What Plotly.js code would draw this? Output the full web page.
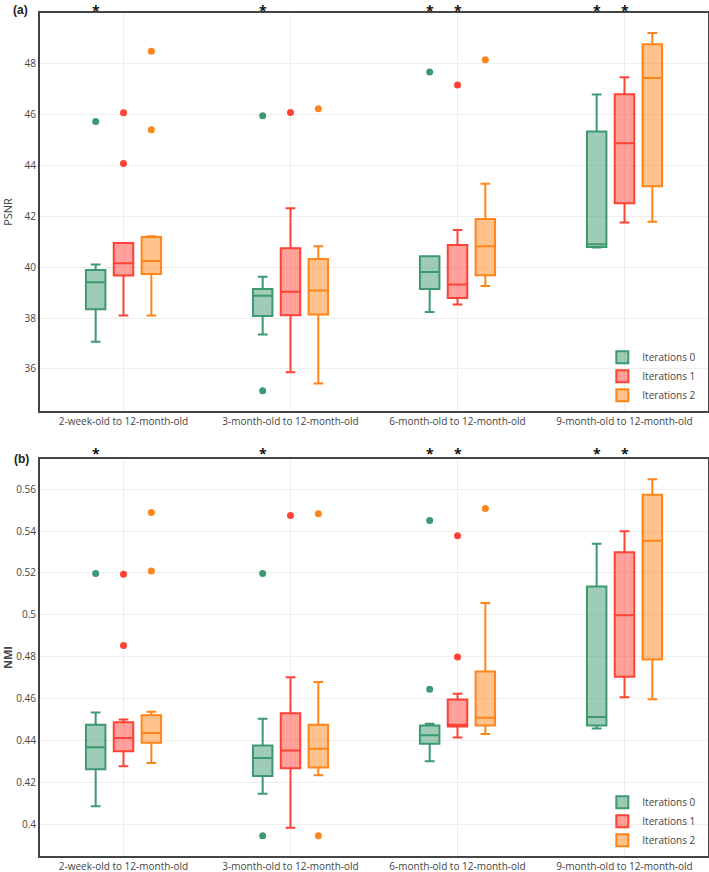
<!DOCTYPE html>
<html>
<head>
<meta charset="utf-8">
<script src="https://cdn.plot.ly/plotly-3.0.1.min.js"></script>
<style>html,body{margin:0;padding:0;background:#fff;}#chart{width:709px;height:872px;}</style>
</head>
<body>
<div id="chart"></div>
<script>
// ---------- DATA ----------
var categories = ['2-week-old to 12-month-old', '3-month-old to 12-month-old', '6-month-old to 12-month-old', '9-month-old to 12-month-old'];
var seriesNames = ['Iterations 0', 'Iterations 1', 'Iterations 2'];

// PSNR (panel a): per series, per category
var psnrLower  = [[37.07, 37.35, 38.24, 40.77], [38.10, 35.87, 38.53, 41.75], [38.10, 35.43, 39.26, 41.78]];
var psnrQ1     = [[38.35, 38.08, 39.14, 40.79], [39.67, 38.11, 38.79, 42.51], [39.73, 38.14, 39.68, 43.18]];
var psnrMedian = [[39.41, 38.88, 39.81, 40.90], [40.15, 39.03, 39.32, 44.86], [40.24, 39.08, 40.82, 47.43]];
var psnrQ3     = [[39.89, 39.14, 40.43, 45.33], [40.95, 40.74, 40.87, 46.79], [41.18, 40.32, 41.89, 48.75]];
var psnrUpper  = [[40.10, 39.62, 40.43, 46.78], [40.95, 42.31, 41.46, 47.46], [41.21, 40.82, 43.27, 49.19]];
// outliers: category index and value
var psnrOutCat = [[0, 1, 1, 2], [0, 0, 1, 2], [0, 0, 1, 2]];
var psnrOutVal = [[45.72, 45.94, 35.14, 47.66], [46.06, 44.07, 46.07, 47.15], [48.48, 45.39, 46.22, 48.14]];

// NMI (panel b)
var nmiLower  = [[0.4087, 0.4146, 0.4301, 0.4458], [0.4277, 0.3984, 0.4415, 0.4607], [0.4293, 0.4235, 0.4431, 0.4597]];
var nmiQ1     = [[0.4263, 0.4231, 0.4385, 0.4472], [0.4349, 0.4268, 0.4467, 0.4705], [0.4390, 0.4271, 0.4472, 0.4787]];
var nmiMedian = [[0.4368, 0.4317, 0.4425, 0.4513], [0.4412, 0.4353, 0.4475, 0.4998], [0.4436, 0.4361, 0.4509, 0.5354]];
var nmiQ3     = [[0.4475, 0.4377, 0.4472, 0.5136], [0.4488, 0.4531, 0.4596, 0.5299], [0.4521, 0.4475, 0.4730, 0.5573]];
var nmiUpper  = [[0.4534, 0.4504, 0.4480, 0.5340], [0.4501, 0.4702, 0.4624, 0.5399], [0.4537, 0.4680, 0.5057, 0.5648]];
var nmiOutCat = [[0, 1, 1, 2, 2], [0, 0, 1, 2, 2], [0, 0, 1, 1, 2]];
var nmiOutVal = [[0.5198, 0.5198, 0.3946, 0.5450, 0.4645], [0.5194, 0.4854, 0.5475, 0.5378, 0.4799], [0.5489, 0.5210, 0.5483, 0.3946, 0.5508]];

// significance asterisks: [category index, series index] (same in both panels)
var sigCat    = [0, 1, 2, 2, 3, 3];
var sigSeries = [0, 0, 0, 1, 0, 1];

var yTickPSNR = [36, 38, 40, 42, 44, 46, 48];
var yTickNMI  = [0.4, 0.42, 0.44, 0.46, 0.48, 0.5, 0.52, 0.54, 0.56];

// ---------- STYLE ----------
var colors = ['#3D9970', '#FF4136', '#FF851B'];
var BOXGAP = 0.5, BOXGROUPGAP = 0.3;
var FONT = 'Open Sans, sans-serif';

var traces = [];
function addPanel(xa, ya, lo, q1, med, q3, up, oc, ov, legendId) {
  for (var s = 0; s < 3; s++) {
    traces.push({
      type: 'box', name: seriesNames[s], x: categories,
      lowerfence: lo[s], q1: q1[s], median: med[s], q3: q3[s], upperfence: up[s],
      boxpoints: false,
      xaxis: xa, yaxis: ya, offsetgroup: 'g' + s, legend: legendId,
      marker: {color: colors[s]}, line: {color: colors[s], width: 2},
      hoverinfo: 'y'
    });
  }
  for (var s2 = 0; s2 < 3; s2++) {
    traces.push({
      type: 'scatter', mode: 'markers', name: seriesNames[s2], showlegend: false,
      x: oc[s2].map(function (c) { return categories[c]; }), y: ov[s2],
      xaxis: xa, yaxis: ya, offsetgroup: 'g' + s2, legend: legendId,
      marker: {color: colors[s2], size: 7}, cliponaxis: false
    });
  }
}
addPanel('x', 'y', psnrLower, psnrQ1, psnrMedian, psnrQ3, psnrUpper, psnrOutCat, psnrOutVal, 'legend');
addPanel('x2', 'y2', nmiLower, nmiQ1, nmiMedian, nmiQ3, nmiUpper, nmiOutCat, nmiOutVal, 'legend2');

var annotations = [];
var slot = (1 - BOXGAP) / 3;
['y', 'y2'].forEach(function (yref, pi) {
  for (var i = 0; i < sigCat.length; i++) {
    annotations.push({
      xref: pi === 0 ? 'x' : 'x2', yref: yref + ' domain',
      x: sigCat[i] + (sigSeries[i] - 1) * slot, y: 1,
      text: '<b>*</b>', showarrow: false, xanchor: 'center', yanchor: 'top',
      font: {family: FONT, size: 14, color: '#111'}, yshift: pi === 0 ? 13 : 16, borderpad: 0
    });
  }
});
annotations.push({xref: 'paper', yref: 'paper', x: -0.044, y: 1.0, xanchor: 'left', yanchor: 'middle', yshift: 3,
  text: '<b>(a)</b>', showarrow: false, font: {family: 'Liberation Sans, Arial, sans-serif', size: 12, color: '#222'}});
annotations.push({xref: 'paper', yref: 'paper', x: -0.042, y: 0.4709, xanchor: 'left', yanchor: 'middle', yshift: 0,
  text: '<b>(b)</b>', showarrow: false, font: {family: 'Liberation Sans, Arial, sans-serif', size: 12, color: '#222'}});

var xBase = {
  type: 'category', categoryorder: 'array', categoryarray: categories, range: [-0.5, 3.5],
  showgrid: true, gridcolor: '#eeeeee', showline: true, mirror: true, linecolor: '#444', linewidth: 2,
  ticks: '', zeroline: false, tickfont: {family: FONT, size: 10, color: '#444'}, fixedrange: true
};
function yBase(ticks, range, domain, title, standoff) {
  return {
    range: range, domain: domain, tickvals: ticks, showgrid: true, gridcolor: '#eeeeee',
    showline: true, mirror: true, linecolor: '#444', linewidth: 2, zeroline: false, ticks: '',
    tickfont: {family: FONT, size: 10, color: '#444'},
    title: {text: title, font: {family: FONT, size: 11, color: '#444'}, standoff: standoff}
  };
}

var layout = {
  width: 709, height: 872,
  margin: {l: 40, r: 1, t: 13, b: 16},
  paper_bgcolor: '#fff', plot_bgcolor: '#fff',
  font: {family: FONT, size: 10, color: '#444'},
  boxmode: 'group', boxgap: BOXGAP, boxgroupgap: BOXGROUPGAP,
  scattermode: 'group', scattergap: BOXGAP,
  xaxis: Object.assign({}, xBase, {anchor: 'y'}),
  xaxis2: Object.assign({}, xBase, {anchor: 'y2'}),
  yaxis: Object.assign(yBase(yTickPSNR, [34.35, 49.98], [0.5279, 1], 'PSNR', 14), {anchor: 'x'}),
  yaxis2: Object.assign(yBase(yTickNMI, [0.3849, 0.5744], [0, 0.4709], '<b>NMI</b>', 6), {anchor: 'x2'}),
  legend: {x: 0.99, y: 0.5295, xanchor: 'right', yanchor: 'bottom', bgcolor: 'rgba(0,0,0,0)',
           font: {family: FONT, size: 10, color: '#444'}, tracegroupgap: 0},
  legend2: {x: 0.99, y: 0.0015, xanchor: 'right', yanchor: 'bottom', bgcolor: 'rgba(0,0,0,0)',
           font: {family: FONT, size: 10, color: '#444'}, tracegroupgap: 0},
  annotations: annotations,
  showlegend: true
};

Plotly.newPlot('chart', traces, layout, {displayModeBar: false, staticPlot: true});
</script>
</body>
</html>
